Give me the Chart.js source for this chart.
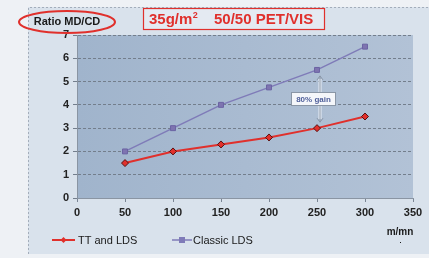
<!DOCTYPE html>
<html>
<head>
<meta charset="utf-8">
<script src="https://cdn.jsdelivr.net/npm/chart.js@4"></script>
<style>
  html, body { margin: 0; padding: 0; background: #eef1f5; }
  #wrap { width: 429px; height: 258px; position: relative; }
</style>
</head>
<body>
<div id="wrap"><canvas id="ratio-chart" width="429" height="258"></canvas></div>
<script>
// line speed, m/mn
let speeds = [50, 100, 150, 200, 250, 300];
// MD/CD ratio
let ttLds = [1.5, 2.0, 2.3, 2.6, 3.0, 3.5];
let classicLds = [2.0, 3.0, 4.0, 4.75, 5.5, 6.5];
let seriesNames = ["TT and LDS", "Classic LDS"];
let xTicks = [0, 50, 100, 150, 200, 250, 300, 350];
let yTicks = [0, 1, 2, 3, 4, 5, 6, 7];

const RED = "#e0302c";
const PURPLE = "#7f7bb8";
const FONT = "'Liberation Sans Narrow', 'Liberation Sans', Arial, sans-serif";

function toPoints(ys) {
	return speeds.map((s, i) => ({ x: s, y: ys[i] }));
}

// page decorations: outer frame, plot fill, title box, ellipse, legend, gain arrow
const decor = {
	id: "decor",
	beforeDraw(chart) {
		const c = chart.ctx;
		const a = chart.chartArea;
		c.save();
		c.fillStyle = "#eef1f5";
		c.fillRect(0, 0, chart.width, chart.height);
		c.fillStyle = "#d9e2ec";
		c.fillRect(28, 7, chart.width - 28, 247);
		// dotted outer frame
		c.strokeStyle = "#a3adba";
		c.setLineDash([2, 2]);
		c.lineWidth = 1;
		c.beginPath();
		c.moveTo(28.5, 254); c.lineTo(28.5, 7.5); c.lineTo(429, 7.5);
		c.stroke();
		c.setLineDash([]);
		// plot background
		let g = c.createLinearGradient(a.left, 0, a.right, 0);
		g.addColorStop(0, "#a0b4cc");
		g.addColorStop(1, "#b2c2d6");
		c.fillStyle = g;
		c.fillRect(a.left, a.top, a.right - a.left, a.bottom - a.top);
		c.restore();
	},
	afterDraw(chart) {
		const c = chart.ctx;
		const xs = chart.scales.x, ys = chart.scales.y;
		c.save();
		// title box
		c.fillStyle = "#e4eaf2";
		c.fillRect(143, 8, 182, 22);
		c.strokeStyle = RED;
		c.lineWidth = 1.2;
		c.strokeRect(143.5, 8.5, 181, 21);
		c.fillStyle = RED;
		c.font = "bold 15px 'Liberation Sans', Arial, sans-serif";
		c.textBaseline = "middle";
		c.textAlign = "left";
		c.fillText("35g/m", 149, 19.5);
		let w = c.measureText("35g/m").width;
		c.font = "bold 9px 'Liberation Sans', Arial, sans-serif";
		c.fillText("2", 149 + w + 0.5, 15.5);
		c.font = "bold 15px 'Liberation Sans', Arial, sans-serif";
		c.fillText("50/50 PET/VIS", 214, 19.5);

		// Ratio MD/CD with red ellipse
		c.fillStyle = "#1a1a1a";
		c.font = "bold 11px " + FONT;
		c.textAlign = "center";
		c.fillText("Ratio MD/CD", 67, 22);
		c.strokeStyle = RED;
		c.lineWidth = 2;
		c.beginPath();
		c.ellipse(67, 22, 48, 11, 0, 0, Math.PI * 2);
		c.stroke();

		// gain arrow between series at 250
		let ax = xs.getPixelForValue(250) + 3;
		let yTop = ys.getPixelForValue(classicLds[4]) + 6;
		let yBot = ys.getPixelForValue(ttLds[4]) - 6;
		c.strokeStyle = "#e8eef6";
		c.lineWidth = 3;
		c.beginPath(); c.moveTo(ax, yTop + 3); c.lineTo(ax, yBot - 3); c.stroke();
		c.strokeStyle = "#8a96a6";
		c.lineWidth = 1;
		c.beginPath(); c.moveTo(ax, yTop); c.lineTo(ax, yBot); c.stroke();
		c.beginPath();
		c.moveTo(ax - 3, yTop + 4); c.lineTo(ax, yTop); c.lineTo(ax + 3, yTop + 4);
		c.moveTo(ax - 3, yBot - 4); c.lineTo(ax, yBot); c.lineTo(ax + 3, yBot - 4);
		c.stroke();
		// label box
		c.fillStyle = "#f4f6fa";
		c.fillRect(291, 92, 45, 14);
		c.strokeStyle = "#8a96a6";
		c.strokeRect(291.5, 92.5, 44, 13);
		c.fillStyle = "#4f5f9a";
		c.font = "bold 8px 'Liberation Sans', Arial, sans-serif";
		c.textAlign = "center";
		c.fillText("80% gain", 313.5, 99.5);

		// legend
		c.textAlign = "left";
		c.font = "11px " + FONT;
		let ly = 240;
		c.strokeStyle = RED; c.lineWidth = 2;
		c.beginPath(); c.moveTo(52, ly); c.lineTo(75, ly); c.stroke();
		c.fillStyle = RED;
		c.beginPath(); c.moveTo(63.5, ly - 3); c.lineTo(66.5, ly); c.lineTo(63.5, ly + 3); c.lineTo(60.5, ly); c.closePath(); c.fill();
		c.fillStyle = "#1a1a1a";
		c.fillText(seriesNames[0], 78, ly + 0.5);
		c.strokeStyle = PURPLE; c.lineWidth = 1.5;
		c.beginPath(); c.moveTo(172, ly); c.lineTo(192, ly); c.stroke();
		c.fillStyle = PURPLE;
		c.fillRect(179, ly - 3, 6, 6);
		c.fillStyle = "#1a1a1a";
		c.fillText(seriesNames[1], 193, ly + 0.5);

		// unit
		c.font = "bold 10px " + FONT;
		c.textAlign = "center";
		c.fillText("m/mn", 400, 232);
		c.fillRect(400, 242, 1, 1);
		c.restore();
	}
};

new Chart(document.getElementById("ratio-chart"), {
	type: "line",
	data: {
		datasets: [{
			label: seriesNames[0],
			data: toPoints(ttLds),
			borderColor: RED,
			backgroundColor: RED,
			borderWidth: 2,
			pointStyle: "rectRot",
			pointRadius: 3.5,
			pointBorderColor: "#5a1010",
			pointBorderWidth: 1,
			fill: false,
			tension: 0
		}, {
			label: seriesNames[1],
			data: toPoints(classicLds),
			borderColor: PURPLE,
			backgroundColor: "#7e74b0",
			borderWidth: 1.5,
			pointStyle: "rect",
			pointRadius: 3.5,
			pointBorderColor: "#6b63a3",
			pointBorderWidth: 1,
			fill: false,
			tension: 0
		}]
	},
	options: {
		responsive: false,
		animation: false,
		layout: { padding: { left: 0, right: 16, top: 35, bottom: 0 } },
		plugins: { legend: { display: false }, tooltip: { enabled: false } },
		scales: {
			x: {
				type: "linear",
				min: 0, max: 350,
				afterBuildTicks: (s) => { s.ticks = xTicks.map(v => ({ value: v })); },
				afterFit: (s) => { s.height = 60; },
				grid: { display: true, drawOnChartArea: false, drawTicks: true, tickLength: 4, color: "#7a8594" },
				border: { display: true, color: "#8a95a3" },
				ticks: { color: "#222", padding: 4, maxRotation: 0, font: { family: FONT, size: 11, weight: "bold" } }
			},
			y: {
				min: 0, max: 7,
				afterBuildTicks: (s) => { s.ticks = yTicks.map(v => ({ value: v })); },
				afterFit: (s) => { s.width = 77; },
				// border.dash dashes the horizontal grid lines in v4
				grid: { color: "#737e8c", lineWidth: 1, tickLength: 4, drawTicks: true },
				border: { display: true, color: "#8a95a3", dash: [3, 2] },
				ticks: { color: "#222", padding: 4, font: { family: "'Liberation Sans', Arial, sans-serif", size: 11, weight: "bold" } }
			}
		}
	},
	plugins: [decor]
});
</script>
</body>
</html>
